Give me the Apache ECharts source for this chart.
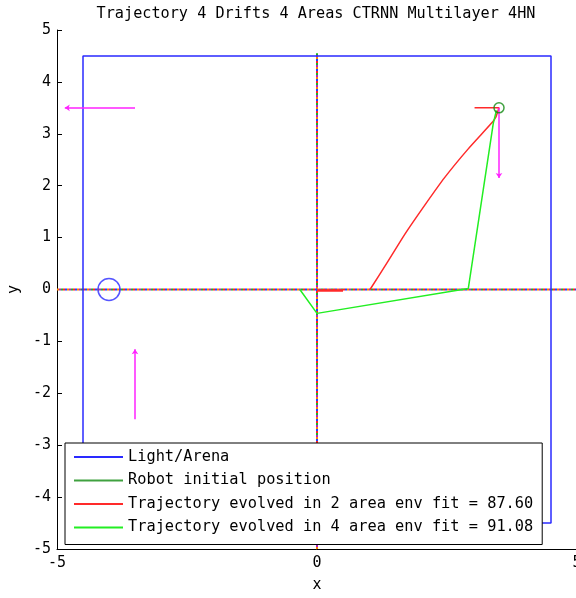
<!DOCTYPE html>
<html><head><meta charset="utf-8">
<script src="https://cdn.jsdelivr.net/npm/echarts@6/dist/echarts.min.js"></script>
<style>html,body{margin:0;padding:0;background:#fff}#c{width:576px;height:598px}</style>
</head><body><div id="c"></div>
<script>
// ---- data ----
const titleText = 'Trajectory 4 Drifts 4 Areas CTRNN Multilayer 4HN';
const legendNames = ['Light/Arena', 'Robot initial position', 'Trajectory evolved in 2 area env fit = 87.60', 'Trajectory evolved in 4 area env fit = 91.08'];
const xTicks = [-5, 0, 5];
const yTicks = [-5, -4, -3, -2, -1, 0, 1, 2, 3, 4, 5];
const arena = [[-4.5, -4.5], [-4.5, 4.5], [4.5, 4.5], [4.5, -4.5], [-4.5, -4.5]];
const lightPos = [[-4, 0]];
const robotPos = [[3.5, 3.5]];
const traj2Head = [[3.03, 3.5], [3.5, 3.5], [3.44, 3.32]];
const traj2 = [[3.44, 3.32], [3.38, 3.23], [2.9, 2.7], [2.45, 2.15], [2.07, 1.62], [1.7, 1.08], [1.37, 0.55], [1.02, 0.0]];
const traj2b = [[0, -0.02], [0.5, -0.02]];
const traj4 = [[3.45, 3.45], [3.39, 3.2], [2.91, 0.02], [0, -0.46], [-0.33, 0]];
const driftStart = [[-3.5, 3.5], [3.5, 3.5], [-3.5, -2.5], [3.5, -3.5]];
const driftEnd = [[-4.85, 3.5], [3.5, 2.15], [-3.5, -1.15], [2.15, -3.5]];
const zeroLineH = [[-5, 0], [5, 0]];
const zeroLineV = [[0, -5], [0, 4.55]];
const dashColors = ['#ff8000', '#2040ff', '#ff2020', '#20b020', '#b020c0'];

// ---- chart ----
const FONT = 'DejaVu Sans Mono';
const chart = echarts.init(document.getElementById('c'), null, {renderer: 'canvas'});
const series = [];
dashColors.forEach((c, i) => {
  [zeroLineH, zeroLineV].forEach(d => {
    series.push({type: 'line', data: d, symbol: 'none', silent: true, z: 1,
      lineStyle: {color: c, width: 2, type: [2, 8], dashOffset: i * 2}});
  });
});
const RED = '#ff2a2a', GREEN = '#22ee22', BLUE = '#2a2aff', DKGREEN = '#108a10';
series.push({name: legendNames[0], type: 'line', data: arena, symbol: 'none', z: 3,
  lineStyle: {color: BLUE, width: 1.5}, itemStyle: {color: BLUE}});
series.push({name: legendNames[0], type: 'scatter', data: lightPos, symbol: 'circle', symbolSize: 22, z: 3,
  itemStyle: {color: 'rgba(0,0,0,0)', borderColor: BLUE, borderWidth: 1.5}});
series.push({name: legendNames[1], type: 'scatter', data: robotPos, symbol: 'circle', symbolSize: 10, z: 6,
  itemStyle: {color: 'rgba(0,0,0,0)', borderColor: DKGREEN, borderWidth: 1.5}});
series.push({name: legendNames[2], type: 'line', data: traj2Head, symbol: 'none', z: 4,
  lineStyle: {color: RED, width: 1.5}, itemStyle: {color: RED}});
series.push({name: legendNames[2], type: 'line', data: traj2, symbol: 'none', z: 4, smooth: 0.2,
  lineStyle: {color: RED, width: 1.5}, itemStyle: {color: RED}});
series.push({name: legendNames[2], type: 'line', data: traj2b, symbol: 'none', z: 4,
  lineStyle: {color: RED, width: 2.5}, itemStyle: {color: RED}});
series.push({name: legendNames[3], type: 'line', data: traj4, symbol: 'none', z: 5,
  lineStyle: {color: GREEN, width: 1.5}, itemStyle: {color: GREEN}});
series.push({type: 'lines', coordinateSystem: 'cartesian2d', z: 5, silent: true,
  data: driftStart.map((s, i) => ({coords: [s, driftEnd[i]]})),
  symbol: ['none', 'arrow'], symbolSize: 5,
  lineStyle: {color: '#ff22ff', width: 1.5, opacity: 1}});

chart.setOption({
  animation: false,
  backgroundColor: '#fff',
  title: {text: titleText, left: 316, top: 7, textAlign: 'center', padding: 0,
    textStyle: {fontFamily: FONT, fontSize: 15.2, fontWeight: 'normal', color: '#000'}},
  grid: {left: 57, top: 30, width: 520, height: 519, containLabel: false, outerBoundsMode: 'none'},
  xAxis: {type: 'value', min: xTicks[0], max: xTicks[xTicks.length - 1], interval: 5,
    name: 'x', nameLocation: 'middle', nameGap: 29,
    nameTextStyle: {fontFamily: FONT, fontSize: 15, color: '#000'},
    axisLine: {show: true, onZero: false, lineStyle: {color: '#000', width: 1}},
    axisTick: {show: true, inside: true, length: 5, lineStyle: {color: '#000'}},
    axisLabel: {fontFamily: FONT, fontSize: 15, color: '#000', margin: 7},
    splitLine: {show: false}},
  yAxis: {type: 'value', min: yTicks[0], max: yTicks[yTicks.length - 1], interval: 1,
    name: 'y', nameLocation: 'middle', nameGap: 35, nameRotate: 90, nameMoveOverlap: false,
    nameTextStyle: {fontFamily: FONT, fontSize: 15, color: '#000'},
    axisLine: {show: true, onZero: false, lineStyle: {color: '#000', width: 1}},
    axisTick: {show: true, inside: true, length: 5, lineStyle: {color: '#000'}},
    axisLabel: {fontFamily: FONT, fontSize: 15, color: '#000', margin: 6},
    splitLine: {show: false}},
  legend: {
    left: 65, top: 443, orient: 'vertical', icon: 'rect', z: 20,
    padding: [6, 9, 9, 9], itemWidth: 49, itemHeight: 2, itemGap: 7.5,
    backgroundColor: '#fff', borderColor: '#000', borderWidth: 1,
    textStyle: {fontFamily: FONT, fontSize: 15.3, lineHeight: 16, color: '#000'},
    data: [
      {name: legendNames[0], itemStyle: {color: BLUE, borderWidth: 0}},
      {name: legendNames[1], itemStyle: {color: DKGREEN, borderWidth: 0}},
      {name: legendNames[2], itemStyle: {color: RED, borderWidth: 0}},
      {name: legendNames[3], itemStyle: {color: GREEN, borderWidth: 0}}
    ]
  },
  series: series
});
</script></body></html>
